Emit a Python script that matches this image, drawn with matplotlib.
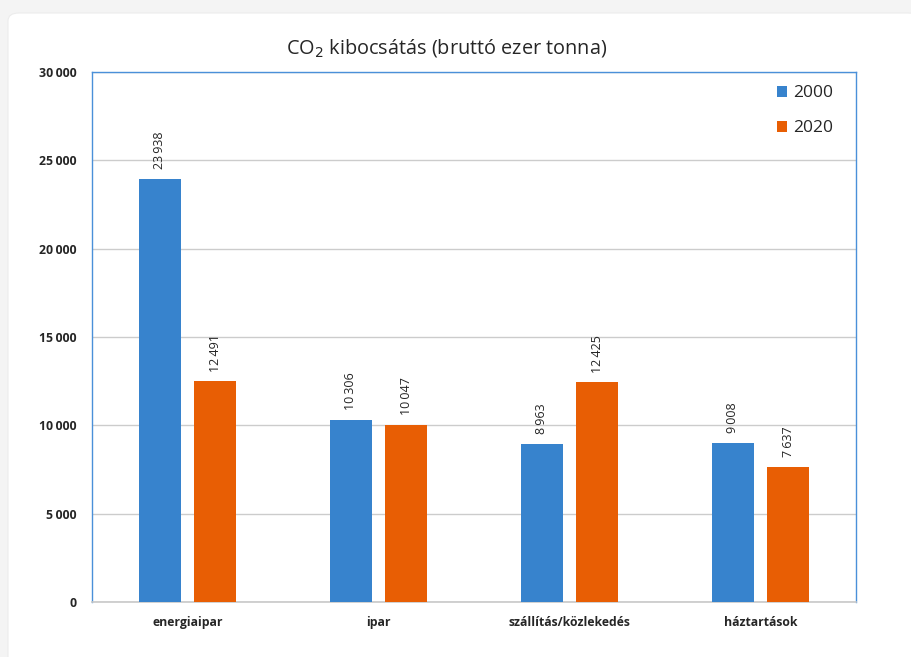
import matplotlib.pyplot as plt
import numpy as np
from matplotlib.patches import FancyBboxPatch
from matplotlib.ticker import FuncFormatter

categories = ["energiaipar", "ipar", "szállítás/közlekedés", "háztartások"]
years = ["2000", "2020"]
values_2000 = [23938, 10306, 8963, 9008]
values_2020 = [12491, 10047, 12425, 7637]
y_ticks = [0, 5000, 10000, 15000, 20000, 25000, 30000]

BLUE = "#3783cd"
ORANGE = "#e85e04"
FRAME = "#4a90d9"


def fmt_thousands(v):
    # Hungarian style: space as thousands separator
    return f"{int(round(v)):,}".replace(",", "\u2009")


def main():
    plt.rcParams["font.family"] = ["Open Sans", "DejaVu Sans"]
    fig = plt.figure(figsize=(9.11, 6.57), dpi=100)
    fig.patch.set_facecolor("#f4f4f4")

    # white card behind the chart
    card = FancyBboxPatch((8 / 911, -0.05), 1.0, (657 - 13) / 657 + 0.05,
                          boxstyle="round,pad=0,rounding_size=0.012",
                          transform=fig.transFigure, facecolor="white",
                          edgecolor="#ececec", linewidth=0.8, zorder=-1)
    fig.patches.append(card)

    ax = fig.add_axes([92 / 911, 1 - 602 / 657, 764 / 911, 530 / 657])
    ax.set_zorder(1)
    ax.set_facecolor("white")

    x = np.arange(len(categories))
    width = 0.225
    offset = 0.144
    bars_a = ax.bar(x - offset, values_2000, width, color=BLUE, label=years[0],
                    zorder=3)
    bars_b = ax.bar(x + offset, values_2020, width, color=ORANGE,
                    label=years[1], zorder=3)

    for bars, vals in ((bars_a, values_2000), (bars_b, values_2020)):
        for bar, v in zip(bars, vals):
            ax.annotate(fmt_thousands(v),
                        (bar.get_x() + bar.get_width() / 2, v),
                        xytext=(0, 7), textcoords="offset points",
                        rotation=90, ha="center", va="bottom",
                        fontsize=9, color="#262626", zorder=4)

    ax.set_xlim(-0.5, 3.5)
    ax.set_ylim(0, 30000)
    ax.set_yticks(y_ticks)
    ax.yaxis.set_major_formatter(FuncFormatter(lambda v, p: fmt_thousands(v)))
    ax.set_xticks(x)
    ax.set_xticklabels(categories)
    for lbl in ax.get_xticklabels() + ax.get_yticklabels():
        lbl.set_fontweight("bold")
        lbl.set_fontsize(8.8)
        lbl.set_color("#262626")
    ax.tick_params(axis="both", length=0)
    ax.tick_params(axis="y", pad=11)
    ax.tick_params(axis="x", pad=10)

    ax.grid(axis="y", color="#cccccc", linewidth=1, zorder=0)
    for side in ("left", "top", "right"):
        ax.spines[side].set_color(FRAME)
        ax.spines[side].set_linewidth(1)
    ax.spines["bottom"].set_color("#c8c8c8")
    ax.spines["bottom"].set_linewidth(1.2)

    fig.text(447 / 911, 1 - 48 / 657, "CO$_2$ kibocsátás (bruttó ezer tonna)",
             fontsize=14.3, color="#262626", ha="center", va="center")

    leg = ax.legend(loc="upper right", frameon=False, fontsize=12.5,
                    handlelength=0.6, handleheight=0.6, handletextpad=0.3,
                    labelspacing=1.1, borderaxespad=0.6,
                    bbox_to_anchor=(1 - 6 / 764, 1 + 4 / 530))
    for t in leg.get_texts():
        t.set_color("#262626")

    fig.savefig("out.png", dpi=100, facecolor=fig.get_facecolor())


if __name__ == "__main__":
    main()
